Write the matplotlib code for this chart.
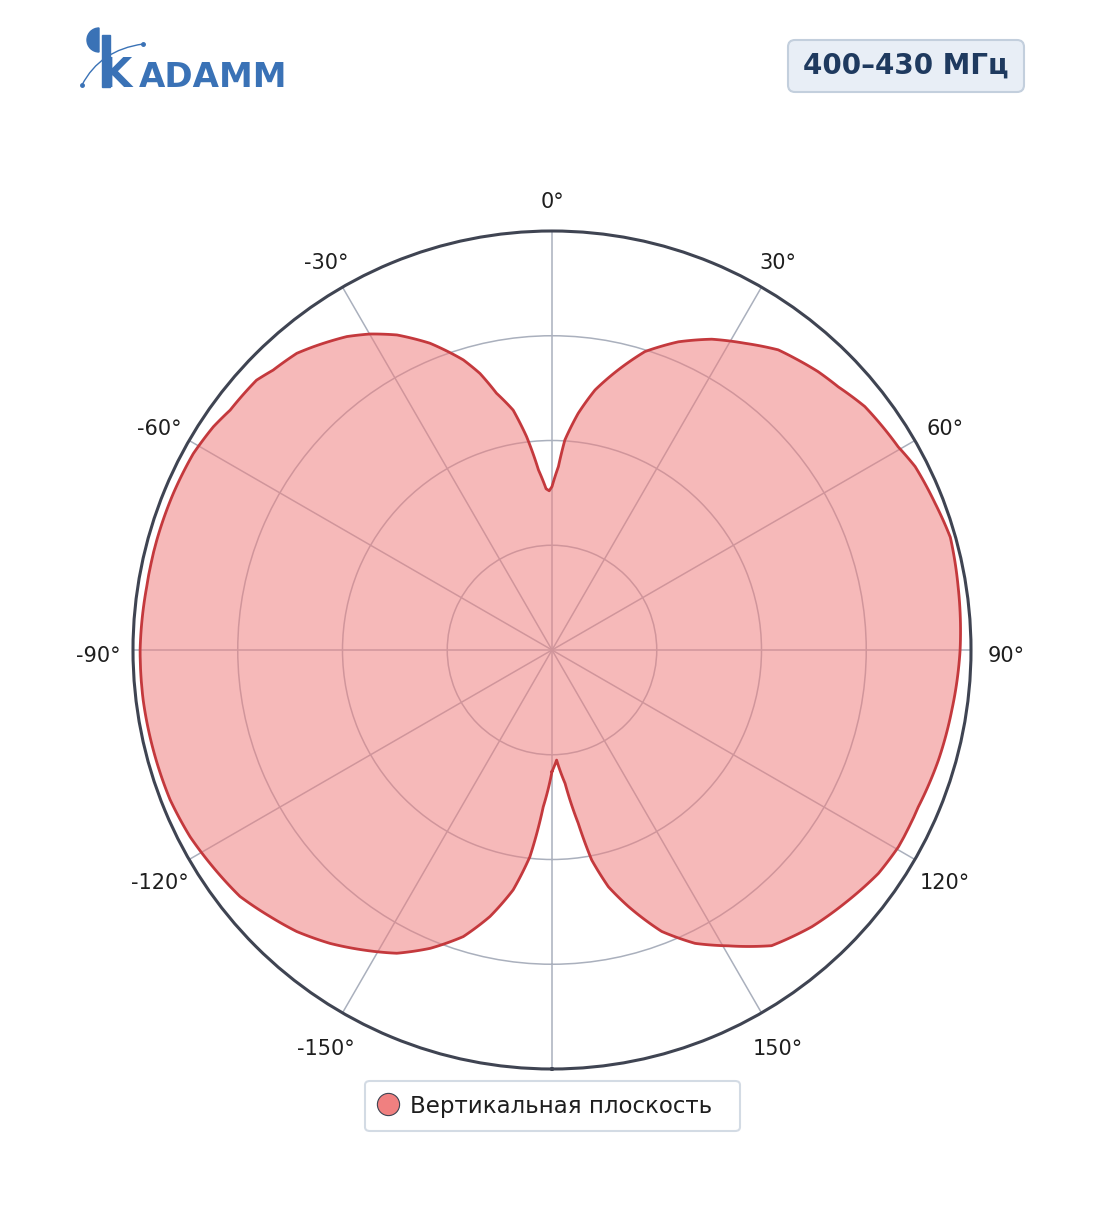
import numpy as np
import matplotlib
matplotlib.use("Agg")
import matplotlib.pyplot as plt
from matplotlib.lines import Line2D
from matplotlib.patches import Wedge, Rectangle, PathPatch, FancyBboxPatch
from matplotlib.path import Path

plt.rcParams['font.family'] = ['DejaVu Sans']

# диаграмма направленности, вертикальная плоскость (нормированная)
angles_deg = [-180, -178.5, -176.8, -173.9, -170.8, -166.9, -162.8, -157.8, -152.9, -147.8,
              -142.9, -137.8, -133.4, -128.3, -122, -117.3, -111.4, -104.1, -97, -90,
              -81.1, -74.5, -67.5, -61.3, -56.6, -53.3, -47.6, -44.9, -40.7, -38.2,
              -33.2, -29.9, -26.2, -21.7, -17, -14.6, -12.2, -9.2, -6.8, -4.3,
              -2.1, -1, 0, 2, 3.5, 6.3, 9.4, 13.3, 17.3, 22.3,
              27.2, 32.2, 37, 39.8, 43.7, 47.4, 52.1, 59.6, 63.2, 69,
              74.2, 81.1, 90, 98.5, 105.9, 113.2, 119.6, 124.4, 130.8, 136.8,
              141.2, 143.4, 149.2, 154, 158.7, 163.4, 166.6, 169.3, 171.4, 174.4,
              177.6, 180]
gain = [0.29, 0.33, 0.375, 0.496, 0.58, 0.653, 0.716, 0.769, 0.813, 0.846,
        0.878, 0.907, 0.926, 0.949, 0.962, 0.972, 0.979, 0.981, 0.983, 0.983,
        0.979, 0.979, 0.978, 0.976, 0.968, 0.958, 0.955, 0.943, 0.934, 0.921,
        0.894, 0.870, 0.838, 0.788, 0.724, 0.682, 0.627, 0.58, 0.513, 0.431,
        0.385, 0.38, 0.39, 0.438, 0.502, 0.568, 0.629, 0.687, 0.746, 0.795,
        0.834, 0.865, 0.897, 0.906, 0.919, 0.928, 0.946, 0.958, 0.971, 0.979,
        0.988, 0.981, 0.974, 0.965, 0.959, 0.951, 0.951, 0.944, 0.924, 0.906,
        0.888, 0.879, 0.822, 0.779, 0.721, 0.639, 0.581, 0.51, 0.418, 0.32,
        0.263, 0.29]

tick_deg = [-150, -120, -90, -60, -30, 0, 30, 60, 90, 120, 150]
tick_labels = ['-150°', '-120°', '-90°', '-60°', '-30°', '0°', '30°', '60°', '90°', '120°', '150°']
grid_deg = [-150, -120, -90, -60, -30, 0, 30, 60, 90, 120, 150, 180]
r_ticks = [0.25, 0.5, 0.75]

series_name = 'Вертикальная плоскость'
band_label = '400–430 МГц'

W, H = 1104, 1211
fig = plt.figure(figsize=(W / 100, H / 100), dpi=100)

cx, cy, R = 552, 650, 419
ax = fig.add_axes([(cx - R) / W, (H - cy - R) / H, 2 * R / W, 2 * R / H], projection='polar')
ax.set_theta_zero_location('N')
ax.set_theta_direction(-1)
ax.set_axisbelow(True)

theta = np.deg2rad(angles_deg)
poly = ax.fill(theta, gain, color='#f08080', alpha=0.55, lw=0, zorder=1)[0]
line = ax.plot(theta, gain, color='#c4393d', lw=2.0, zorder=2)[0]
# segments drawn as curves in polar space
poly.get_path()._interpolation_steps = 12
line.get_path()._interpolation_steps = 12

ax.set_thetamin(-180)
ax.set_thetamax(180)
ax.set_rlim(0, 1)
ax.set_rticks(r_ticks)
ax.set_yticklabels([])
ax.set_xticks(np.deg2rad(grid_deg))
ax.set_xticklabels([])
ax.grid(True, color='#aab0bd', lw=1.1)
ax.spines['polar'].set_color('#3f4452')
ax.spines['polar'].set_linewidth(2.2)

# подписи углов
px2pt = 0.72
for deg, lab in zip(tick_deg, tick_labels):
    s, c = np.sin(np.deg2rad(deg)), np.cos(np.deg2rad(deg))
    dx = s * (30 + 5 * abs(s))
    dy = -c * 30 + 4.5 * (1 - c) + 1.5
    ax.annotate(lab, xy=(np.deg2rad(deg), 1.0), xytext=(dx * px2pt, -dy * px2pt),
                textcoords='offset points', ha='center', va='center', fontsize=15,
                color='#1e1e1e', annotation_clip=False)

handle = Line2D([], [], marker='o', ls='', markersize=16, markerfacecolor='#f08080',
                markeredgecolor='#3f4452', markeredgewidth=0.8)
leg = fig.legend([handle], [series_name], loc='center',
                 bbox_to_anchor=(365 / W, 1 - 1131 / H, 375 / W, 50 / H), mode='expand',
                 fontsize=16.5, frameon=True, fancybox=True, borderpad=0.6, handletextpad=0.5,
                 borderaxespad=0, handlelength=0.85)
leg.get_frame().set_edgecolor('#c9d2de')
leg.get_frame().set_linewidth(1.5)
for t in leg.get_texts():
    t.set_color('#1e1e1e')

# логотип и подпись диапазона
lax = fig.add_axes([0, 0, 1, 1])
lax.set_xlim(0, W)
lax.set_ylim(H, 0)
lax.axis('off')

lax.add_patch(FancyBboxPatch((788, 40), 236, 52, boxstyle='round,pad=0,rounding_size=7',
                             fc='#e8eef6', ec='#c3cfdd', lw=1.5))
lax.text(906, 66, band_label, fontsize=20, fontweight='bold', color='#1f3a5f',
         ha='center', va='center')

logo_blue = '#3a72b6'
lax.add_patch(Wedge((99, 40), 12, 90, 270, color=logo_blue))
lax.add_patch(Rectangle((102, 35), 8, 52, color=logo_blue))
lax.text(100, 87, 'K', fontsize=29, fontweight='bold', color=logo_blue, ha='left', va='baseline')
lax.text(139, 87, 'ADAMM', fontsize=24.5, fontweight='bold', color=logo_blue, ha='left', va='baseline')
arc = Path([(82, 85), (100, 50), (143, 44)], [Path.MOVETO, Path.CURVE3, Path.CURVE3])
lax.add_patch(PathPatch(arc, fc='none', ec=logo_blue, lw=1.0))
lax.plot([82, 143], [85, 44], 'o', color=logo_blue, ms=2.5)

fig.savefig('out.png', dpi=100, facecolor='white')
